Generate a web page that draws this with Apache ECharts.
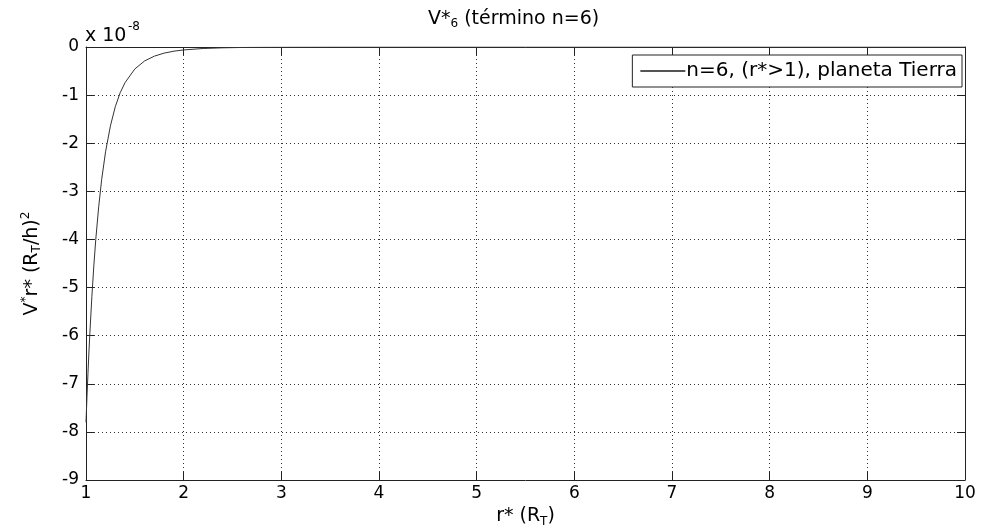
<!DOCTYPE html>
<html>
<head>
<meta charset="utf-8">
<script src="https://cdn.jsdelivr.net/npm/echarts@6/dist/echarts.min.js"></script>
<style>html,body{margin:0;padding:0;background:#fff}#c{width:981px;height:529px}</style>
</head>
<body>
<div id="c"></div>
<script>
// r* values (R_T)
var rValues = [1.00, 1.01, 1.02, 1.03, 1.04, 1.06, 1.08, 1.10, 1.13, 1.16, 1.20, 1.25, 1.30, 1.35, 1.40, 1.50, 1.60, 1.70, 1.80, 1.90, 2.00, 2.20, 2.40, 2.60, 2.80, 3.00, 3.50, 4.00, 5.00, 6.00, 7.00, 8.00, 9.00, 10.00];
// V* values in units of 1e-8
var vValues = [-7.80, -7.27, -6.79, -6.34, -5.93, -5.19, -4.55, -4.00, -3.32, -2.76, -2.18, -1.64, -1.24, -0.95, -0.74, -0.456, -0.29, -0.19, -0.127, -0.087, -0.061, -0.031, -0.017, -0.0097, -0.0058, -0.0036, -0.0012, -0.0005, -0.0001, -0.00003, -0.00001, -0.000004, -0.000002, -0.000001];
var xTicks = [1, 2, 3, 4, 5, 6, 7, 8, 9, 10];
var yTicks = [-9, -8, -7, -6, -5, -4, -3, -2, -1, 0];
var seriesName = 'n=6, (r*>1), planeta Tierra';

var F = 'DejaVu Sans, Verdana, sans-serif';
var data = rValues.map(function (r, i) { return [r, vValues[i]]; });
var chart = echarts.init(document.getElementById('c'), null, {renderer: 'canvas'});
var axisCol = '#222';
var commonX = {
  type: 'value', min: xTicks[0], max: xTicks[xTicks.length - 1], interval: 1,
  axisLine: {show: true, onZero: false, lineStyle: {color: axisCol, width: 1}},
  axisTick: {show: true, inside: true, length: 8, lineStyle: {color: axisCol}}
};
var commonY = {
  type: 'value', min: yTicks[0], max: yTicks[yTicks.length - 1], interval: 1,
  axisLine: {show: true, onZero: false, lineStyle: {color: axisCol, width: 1}},
  axisTick: {show: true, inside: true, length: 8, lineStyle: {color: axisCol}}
};
chart.setOption({
  backgroundColor: '#fff',
  animation: false,
  title: {
    text: '{a|V*}{s|6}{a| (término n=6)}',
    left: 428, top: 8, padding: 0,
    textStyle: {
      fontWeight: 'normal',
      rich: {
        a: {fontFamily: F, fontSize: 19, fontWeight: 'normal', color: '#000'},
        s: {fontFamily: F, fontSize: 12, fontWeight: 'normal', color: '#000', padding: [10, 0, 0, 0]}
      }
    }
  },
  grid: {left: 86, right: 16, top: 47, bottom: 49, containLabel: false, outerBoundsMode: 'none'},
  legend: {
    data: [seriesName],
    right: 19, top: 55,
    orient: 'vertical',
    backgroundColor: '#fff',
    borderColor: '#222', borderWidth: 1, borderRadius: 0,
    padding: [6, 5, 6, 8],
    itemWidth: 45, itemHeight: 2, itemGap: 0,
    icon: 'rect',
    textStyle: {fontFamily: F, fontSize: 20, color: '#000', padding: [0, 0, 0, -4]}
  },
  xAxis: [
    Object.assign({}, commonX, {
      position: 'bottom',
      name: 'r* (R{s|T})', nameLocation: 'middle', nameGap: 24,
      nameTextStyle: {fontFamily: F, fontSize: 19, color: '#000',
        rich: {s: {fontFamily: F, fontSize: 12, color: '#000', padding: [10, 0, 0, 0]}}},
      axisLabel: {fontFamily: F, fontSize: 17, color: '#000', margin: 5},
      splitLine: {show: true, lineStyle: {color: '#333', type: [1, 3], width: 1}}
    }),
    Object.assign({}, commonX, {
      position: 'top', axisLabel: {show: false}, splitLine: {show: false}
    })
  ],
  yAxis: [
    Object.assign({}, commonY, {
      position: 'left',
      name: 'V{p|*}r* (R{s|T}/h){p|2}', nameLocation: 'middle', nameGap: 42,
      nameTextStyle: {fontFamily: F, fontSize: 19, color: '#000',
        rich: {
          s: {fontFamily: F, fontSize: 12, color: '#000', padding: [10, 0, 0, 0]},
          p: {fontFamily: F, fontSize: 12, color: '#000', padding: [0, 0, 12, 0]}
        }},
      axisLabel: {fontFamily: F, fontSize: 17, color: '#000', margin: 7},
      splitLine: {show: true, lineStyle: {color: '#333', type: [1, 3], width: 1}}
    }),
    Object.assign({}, commonY, {
      position: 'right', axisLabel: {show: false}, splitLine: {show: false}
    })
  ],
  graphic: [
    {type: 'text', left: 85, top: 27, style: {text: 'x 10', font: '19px ' + F, fill: '#000'}},
    {type: 'text', left: 128, top: 21, style: {text: '-8', font: '12px ' + F, fill: '#000'}}
  ],
  series: [{
    name: seriesName,
    type: 'line',
    data: data,
    showSymbol: false,
    symbol: 'none',
    lineStyle: {color: '#333', width: 1},
    itemStyle: {color: '#555'}
  }]
});
</script>
</body>
</html>
